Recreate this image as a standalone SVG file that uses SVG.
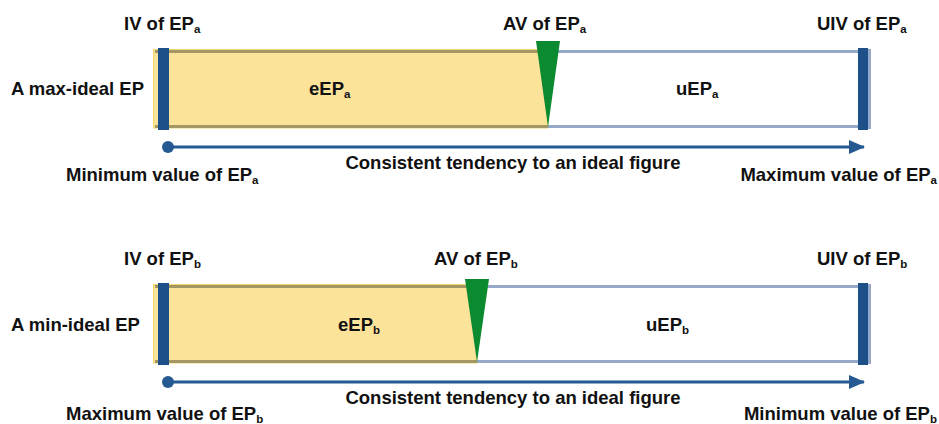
<svg xmlns="http://www.w3.org/2000/svg" width="939" height="424" viewBox="0 0 939 424">
<defs>
<style>
text{font-family:"Liberation Sans",Arial,Helvetica,sans-serif;font-weight:bold;font-size:18.5px;fill:#111}
.s{font-size:11.5px}
.fill{fill:#fbe39a;stroke:#f3d66c;stroke-width:1}
.ol{stroke:#a39864;stroke-width:3;fill:none}
.bl{stroke:#95a8c8;stroke-width:3;fill:none}
.bar{fill:#1d4f89}
.barl{fill:#95a8c8}
.tri{fill:#0b8a30}
.ax{stroke:#245a91;stroke-width:3;fill:none}
</style>
<marker id="ah" markerWidth="16" markerHeight="14" refX="15" refY="7" orient="auto" markerUnits="userSpaceOnUse" viewBox="0 0 16 14">
<path d="M0,0 L16,7 L0,14 Z" fill="#245a91"/>
</marker>
</defs>
<rect width="939" height="424" fill="#fff"/>

<g id="epa">
<rect class="fill" x="153.5" y="49.5" width="394.5" height="78.5"/>
<line class="ol" x1="155" y1="51.5" x2="548" y2="51.5"/>
<line class="ol" x1="155" y1="126.5" x2="548" y2="126.5"/>
<line class="bl" x1="548" y1="51.5" x2="860" y2="51.5"/>
<line class="bl" x1="548" y1="126.5" x2="860" y2="126.5"/>
<rect class="bar" x="158" y="48" width="11" height="82"/>
<rect class="barl" x="866" y="49" width="5" height="80"/>
<rect class="bar" x="858" y="48" width="10" height="82"/>
<polygon class="tri" points="536,41 560,41 548,127"/>
<text x="124" y="30">IV of EP<tspan class="s" dy="3">a</tspan></text>
<text x="503" y="30">AV of EP<tspan class="s" dy="3">a</tspan></text>
<text x="817" y="30">UIV of EP<tspan class="s" dy="3">a</tspan></text>
<text x="11" y="95">A max-ideal EP</text>
<text x="309" y="95">eEP<tspan class="s" dy="3">a</tspan></text>
<text x="676" y="95">uEP<tspan class="s" dy="3">a</tspan></text>
<text x="66" y="180.5">Minimum value of EP<tspan class="s" dy="3">a</tspan></text>
<text x="513" y="168.5" text-anchor="middle">Consistent tendency to an ideal figure</text>
<text x="937" y="180.5" text-anchor="end">Maximum value of EP<tspan class="s" dy="3">a</tspan></text>
</g>

<g id="epb">
<rect class="fill" x="153.5" y="284.5" width="323.5" height="78.5"/>
<line class="ol" x1="155" y1="286.5" x2="477" y2="286.5"/>
<line class="ol" x1="155" y1="361.5" x2="477" y2="361.5"/>
<line class="bl" x1="477" y1="286.5" x2="860" y2="286.5"/>
<line class="bl" x1="477" y1="361.5" x2="860" y2="361.5"/>
<rect class="bar" x="158" y="283" width="11" height="82"/>
<rect class="barl" x="866" y="284" width="5" height="80"/>
<rect class="bar" x="858" y="283" width="10" height="82"/>
<polygon class="tri" points="465,279 489,279 477,362"/>
<text x="124" y="265">IV of EP<tspan class="s" dy="3">b</tspan></text>
<text x="434" y="265">AV of EP<tspan class="s" dy="3">b</tspan></text>
<text x="817" y="265">UIV of EP<tspan class="s" dy="3">b</tspan></text>
<text x="11" y="330.5">A min-ideal EP</text>
<text x="338" y="330.5">eEP<tspan class="s" dy="3">b</tspan></text>
<text x="646" y="330.5">uEP<tspan class="s" dy="3">b</tspan></text>
<text x="66" y="420">Maximum value of EP<tspan class="s" dy="3">b</tspan></text>
<text x="513" y="404" text-anchor="middle">Consistent tendency to an ideal figure</text>
<text x="937" y="420" text-anchor="end">Minimum value of EP<tspan class="s" dy="3">b</tspan></text>
</g>

<g id="connectors">
<circle cx="168" cy="147" r="6" fill="#245a91"/>
<line class="ax" x1="168" y1="147" x2="864" y2="147" marker-end="url(#ah)"/>
<circle cx="168" cy="382" r="6" fill="#245a91"/>
<line class="ax" x1="168" y1="382" x2="864" y2="382" marker-end="url(#ah)"/>
</g>
</svg>
